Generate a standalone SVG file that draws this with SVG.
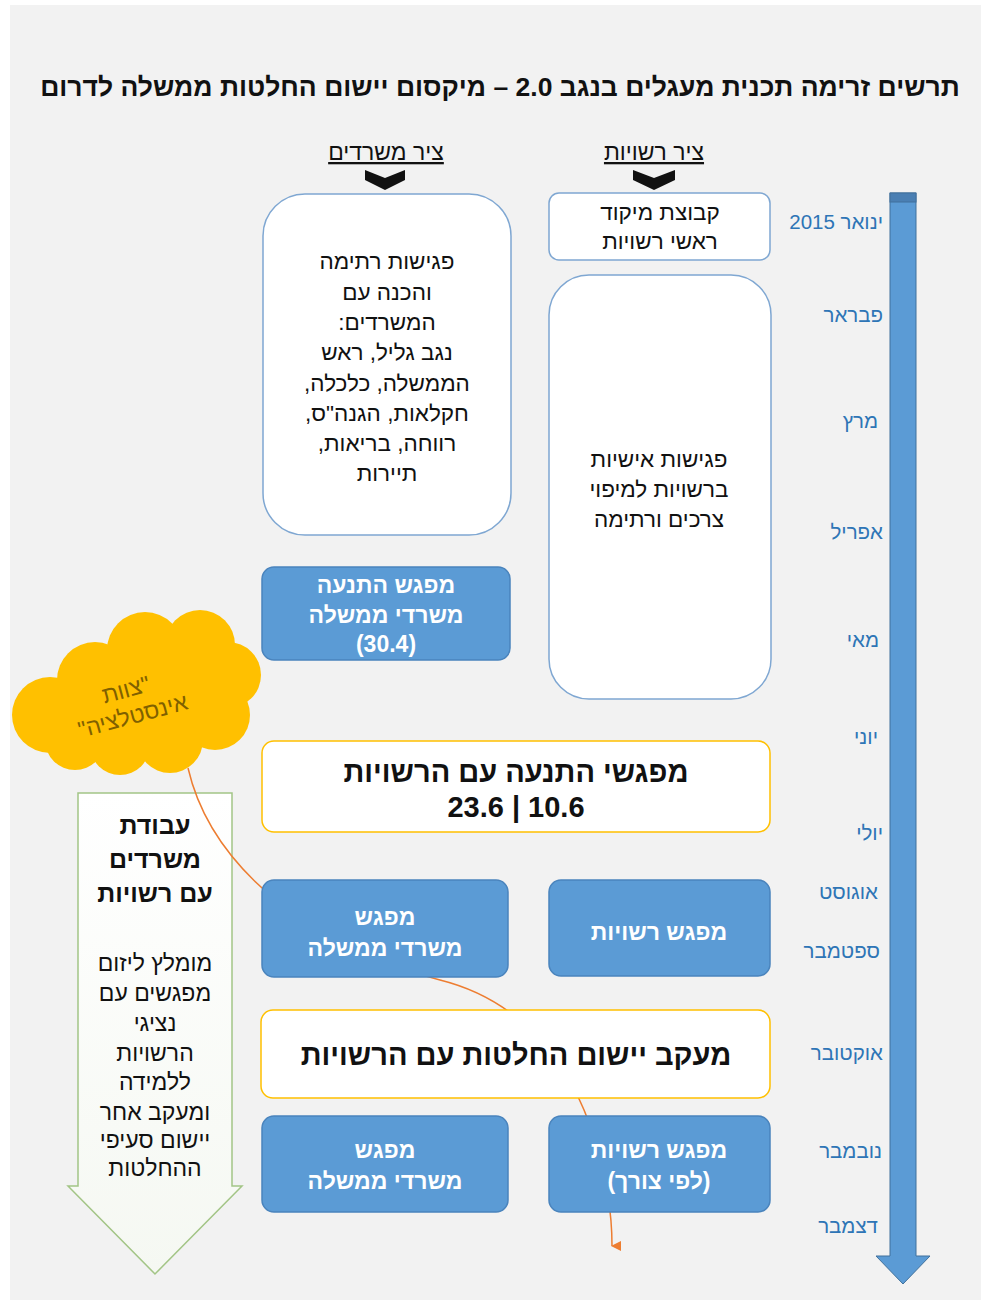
<svg xmlns="http://www.w3.org/2000/svg" width="981" height="1303" viewBox="0 0 981 1303">
<defs>
<style>
text{font-family:"Liberation Sans",Arial,"DejaVu Sans",sans-serif;direction:rtl}
.t{font-size:22.5px;fill:#111;text-anchor:middle}
.tb{font-size:23px;fill:#fff;font-weight:bold;text-anchor:middle}
.tg{font-size:29px;fill:#111;font-weight:bold;text-anchor:middle}
.m{font-size:20.5px;fill:#2e75b6;text-anchor:start}
.wbox{fill:#fff;stroke:#7fa7d2;stroke-width:1.5}
.bbox{fill:#5b9bd5;stroke:#4a84bd;stroke-width:1.5}
.gbox{fill:#fff;stroke:#ffc000;stroke-width:1.5}
</style>
<marker id="ah" viewBox="0 0 10 10" refX="5" refY="9" markerWidth="10" markerHeight="10" markerUnits="userSpaceOnUse" orient="auto-start-reverse">
<path d="M0,0 L10,0 L5,10 Z" fill="#ed7d31"/>
</marker>
<linearGradient id="gg" x1="0" y1="0" x2="0" y2="1">
<stop offset="0" stop-color="#ffffff"/>
<stop offset="1" stop-color="#f5f8f2"/>
</linearGradient>
</defs>
<rect x="0" y="0" width="981" height="1303" fill="#ffffff"/>
<rect x="10" y="5" width="971" height="1295" fill="#f2f2f2"/>

<text x="500" y="96" style="font-size:26.5px;font-weight:bold;fill:#111;text-anchor:middle">תרשים זרימה תכנית מעגלים בנגב 2.0 – מיקסום יישום החלטות ממשלה לדרום</text>

<g id="header-offices">
<text x="386" y="160" class="t" style="text-decoration:underline;font-size:23px">ציר משרדים</text>
<path d="M365,170 L385,178 L405,170 L405,180 L385,190 L365,180 Z" fill="#111"/>
</g>
<g id="header-authorities">
<text x="654" y="160" class="t" style="text-decoration:underline;font-size:23px">ציר רשויות</text>
<path d="M633,170 L654,178 L675,170 L675,180 L654,190 L633,180 Z" fill="#111"/>
</g>

<g id="timeline">
<path d="M890,193 L916,193 L916,1256 L930,1256 L903,1284 L876,1256 L890,1256 Z" fill="#5b9bd5" stroke="#41719c" stroke-width="1"/>
<rect x="890" y="193" width="26" height="9" fill="#4a7fb3" stroke="#41719c" stroke-width="1"/>
<text x="883" y="229" class="m">ינואר 2015</text>
<text x="883" y="322" class="m">פבראר</text>
<text x="878" y="428" class="m">מרץ</text>
<text x="883" y="539" class="m">אפריל</text>
<text x="879" y="647" class="m">מאי</text>
<text x="878" y="744" class="m">יוני</text>
<text x="883" y="840" class="m">יולי</text>
<text x="878" y="899" class="m">אוגוסט</text>
<text x="880" y="958" class="m">ספטמבר</text>
<text x="883" y="1060" class="m">אוקטובר</text>
<text x="882" y="1158" class="m">נובמבר</text>
<text x="878" y="1233" class="m">דצמבר</text>
</g>

<g id="cloud">
<g fill="#ffc000">
<circle cx="50" cy="715" r="38"/>
<circle cx="95" cy="680" r="38"/>
<circle cx="145" cy="650" r="38"/>
<circle cx="200" cy="645" r="35"/>
<circle cx="228" cy="675" r="33"/>
<circle cx="215" cy="715" r="35"/>
<circle cx="170" cy="740" r="33"/>
<circle cx="120" cy="745" r="30"/>
<circle cx="75" cy="740" r="30"/>
<circle cx="140" cy="705" r="55"/>
<circle cx="188" cy="690" r="38"/>
</g>
<g transform="rotate(-15 130 705)">
<text style="font-size:23px;fill:#7f6000;text-anchor:middle"><tspan x="130" y="697">"צוות</tspan><tspan x="130" y="724">אינסטלציה"</tspan></text>
</g>
</g>

<g id="green-arrow">
<path d="M78,793 L232,793 L232,1186 L242,1186 L155,1274 L68,1186 L78,1186 Z" fill="url(#gg)" stroke="#a3c586" stroke-width="1.5"/>
<text style="font-size:25px;font-weight:bold;fill:#111;text-anchor:middle"><tspan x="155" y="834">עבודת</tspan><tspan x="155" y="868">משרדים</tspan><tspan x="155" y="902">עם רשויות</tspan></text>
<text class="t" style="font-size:23px"><tspan x="155" y="971">מומלץ ליזום</tspan><tspan x="155" y="1001">מפגשים עם</tspan><tspan x="155" y="1031">נציגי</tspan><tspan x="155" y="1061">הרשויות</tspan><tspan x="155" y="1090">ללמידה</tspan><tspan x="155" y="1120">ומעקב אחר</tspan><tspan x="155" y="1148">יישום סעיפי</tspan><tspan x="155" y="1176">ההחלטות</tspan></text>
</g>

<g id="connectors">
<path d="M188,768 C212,872 320,950 440,980 C520,1000 570,1060 595,1140 C605,1180 612,1205 612,1246" fill="none" stroke="#ed7d31" stroke-width="1.5" marker-end="url(#ah)"/>
</g>

<g id="box-offices-meetings">
<rect x="263" y="194" width="248" height="341" rx="42" class="wbox"/>
<text class="t"><tspan x="387" y="269">פגישות רתימה</tspan><tspan x="387" y="300">והכנה עם</tspan><tspan x="387" y="330">המשרדים:</tspan><tspan x="387" y="360">נגב גליל, ראש</tspan><tspan x="387" y="391">הממשלה, כלכלה,</tspan><tspan x="387" y="421">חקלאות, הגנה"ס,</tspan><tspan x="387" y="451">רווחה, בריאות,</tspan><tspan x="387" y="481">תיירות</tspan></text>
</g>

<g id="box-focus-group">
<rect x="549" y="193" width="221" height="67" rx="10" class="wbox"/>
<text class="t"><tspan x="660" y="220">קבוצת מיקוד</tspan><tspan x="660" y="249">ראשי רשויות</tspan></text>
</g>

<g id="box-personal-meetings">
<rect x="549" y="275" width="222" height="424" rx="40" class="wbox"/>
<text class="t"><tspan x="659" y="467">פגישות אישיות</tspan><tspan x="659" y="497">ברשויות למיפוי</tspan><tspan x="659" y="527">צרכים ורתימה</tspan></text>
</g>

<g id="box-kickoff-offices">
<rect x="262" y="567" width="248" height="93" rx="12" class="bbox"/>
<text class="tb"><tspan x="386" y="593">מפגש התנעה</tspan><tspan x="386" y="623">משרדי ממשלה</tspan><tspan x="386" y="652">(30.4)</tspan></text>
</g>

<g id="box-kickoff-authorities">
<rect x="262" y="741" width="508" height="91" rx="12" class="gbox"/>
<text class="tg" x="516" y="782">מפגשי התנעה עם הרשויות</text>
<text class="tg" x="516" y="817" style="direction:ltr">23.6 | 10.6</text>
</g>

<g id="box-offices-meeting-1">
<rect x="262" y="880" width="246" height="97" rx="12" class="bbox"/>
<text class="tb"><tspan x="385" y="925">מפגש</tspan><tspan x="385" y="956">משרדי ממשלה</tspan></text>
</g>

<g id="box-authorities-meeting-1">
<rect x="549" y="880" width="221" height="96" rx="12" class="bbox"/>
<text class="tb"><tspan x="659" y="940">מפגש רשויות</tspan></text>
</g>

<g id="box-tracking">
<rect x="261" y="1010" width="509" height="88" rx="12" class="gbox"/>
<text class="tg" x="516" y="1065">מעקב יישום החלטות עם הרשויות</text>
</g>

<g id="box-offices-meeting-2">
<rect x="262" y="1116" width="246" height="96" rx="12" class="bbox"/>
<text class="tb"><tspan x="385" y="1158">מפגש</tspan><tspan x="385" y="1189">משרדי ממשלה</tspan></text>
</g>

<g id="box-authorities-meeting-2">
<rect x="549" y="1116" width="221" height="96" rx="12" class="bbox"/>
<text class="tb"><tspan x="659" y="1158">מפגש רשויות</tspan><tspan x="659" y="1189">(לפי צורך)</tspan></text>
</g>
</svg>
